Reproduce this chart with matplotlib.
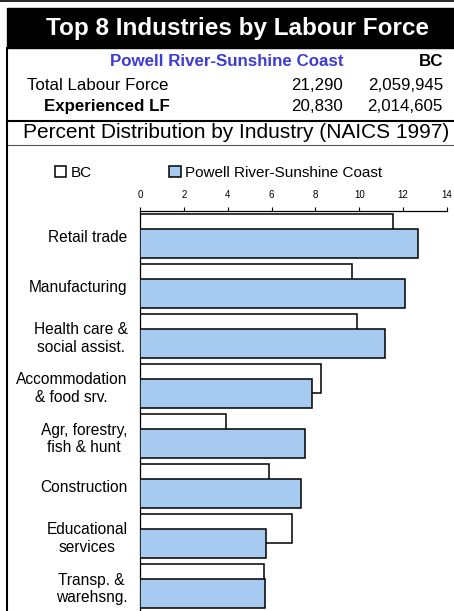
import numpy as np
import matplotlib
matplotlib.use("Agg")
import matplotlib.pyplot as plt
from matplotlib.lines import Line2D
from matplotlib.patches import Rectangle

plt.rcParams['font.family'] = ['Liberation Sans', 'DejaVu Sans']

# data
industries = ['Retail trade', 'Manufacturing', 'Health care &\nsocial assist.',
              'Accommodation\n& food srv.', 'Agr, forestry,\nfish & hunt',
              'Construction', 'Educational\nservices', 'Transp. &\nwarehsng.']
bc_pct = [11.55, 9.65, 9.9, 8.27, 3.9, 5.87, 6.92, 5.65]
prsc_pct = [12.7, 12.1, 11.17, 7.86, 7.52, 7.34, 5.75, 5.71]
region = 'Powell River-Sunshine Coast'
row_labels = ['Total Labour Force', 'Experienced LF']
prsc_counts = ['21,290', '20,830']
bc_counts = ['2,059,945', '2,014,605']
x_ticks = [0, 2, 4, 6, 8, 10, 12, 14]

W, H = 454, 611
fig = plt.figure(figsize=(W / 100, H / 100), dpi=100)


def fx(px):
    return px / W


def fy(py):
    return 1 - py / H


def hline(y, x0, x1, lw=1.5, color='black'):
    fig.add_artist(Line2D([fx(x0), fx(x1)], [fy(y), fy(y)], lw=lw, color=color,
                          transform=fig.transFigure))


def vline(x, y0, y1, lw=1.5, color='black'):
    fig.add_artist(Line2D([fx(x), fx(x)], [fy(y0), fy(y1)], lw=lw, color=color,
                          transform=fig.transFigure))


# header block
hline(1, 0, W, lw=1.2)
fig.add_artist(Rectangle((fx(7), fy(48)), fx(W) - fx(7), fy(8) - fy(48),
                         transform=fig.transFigure, color='black'))
fig.text(fx(237.5), fy(28.5), 'Top 8 Industries by Labour Force', color='white',
         fontsize=17.5, fontweight='bold', ha='center', va='center')

rs = 12.2  # row font size
fig.text(fx(343), fy(61.5), region, color='#3c3cd6', fontsize=rs,
         fontweight='bold', ha='right', va='center')
fig.text(fx(443), fy(61.5), 'BC', fontsize=rs, fontweight='bold',
         ha='right', va='center')
fig.text(fx(27), fy(85), row_labels[0], fontsize=rs, ha='left', va='center')
fig.text(fx(44), fy(106.5), row_labels[1], fontsize=rs, fontweight='bold',
         ha='left', va='center')
for i, yy in enumerate([85, 106.5]):
    fig.text(fx(343), fy(yy), prsc_counts[i], fontsize=rs, ha='right', va='center')
    fig.text(fx(443), fy(yy), bc_counts[i], fontsize=rs, ha='right', va='center')

hline(120.5, 7, W, lw=1.5)
fig.text(fx(236.5), fy(132.5), 'Percent Distribution by Industry (NAICS 1997)',
         fontsize=15, ha='center', va='center')
hline(145, 7, W, lw=0.8, color='#555555')
vline(7, 48, H, lw=1.5)

# chart
ax = fig.add_axes([fx(140), 0, fx(447) - fx(140), 400 / H])
y = np.arange(len(industries))
h = 0.58
ax.barh(y - 0.145, bc_pct, height=h, color='white', edgecolor='black',
        linewidth=1.1, label='BC', zorder=2)
ax.barh(y + 0.145, prsc_pct, height=h, color='#a6caf0', edgecolor='black',
        linewidth=1.1, label=region, zorder=3)
ax.set_ylim(len(industries) - 0.5, -0.5)
ax.set_xlim(0, 14)
ax.set_xticks(x_ticks)
ax.xaxis.tick_top()
ax.tick_params(axis='x', direction='out', length=3, width=0.8, labelsize=7,
               pad=5, colors='black')
ax.set_yticks(y)
ax.set_yticklabels(industries, fontsize=11.2)
ax.tick_params(axis='y', length=0, pad=9)
for lab in ax.get_yticklabels():
    lab.set_multialignment('center')
for s in ['right', 'bottom']:
    ax.spines[s].set_visible(False)
ax.spines['top'].set_linewidth(0.9)
ax.spines['left'].set_linewidth(0.9)

fig.legend(loc='center left', bbox_to_anchor=(fx(55), fy(173)), ncol=2,
           frameon=False, fontsize=11, handlelength=0.75, handleheight=0.75,
           handletextpad=0.25, columnspacing=5.1, borderaxespad=0, borderpad=0)

fig.savefig('out.png', dpi=100)
